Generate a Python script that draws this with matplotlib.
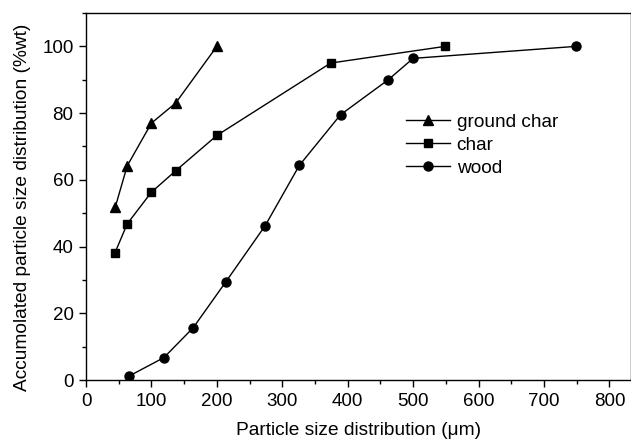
import matplotlib
matplotlib.use("Agg")
import matplotlib.pyplot as plt
from matplotlib.ticker import MultipleLocator

plt.rcParams['font.family'] = ['Liberation Sans', 'DejaVu Sans']

# Cumulative particle size distributions
ground_char_x = [45, 63, 100, 137, 200]
ground_char_y = [52, 64.2, 77, 83, 100]

char_x = [44, 63, 100, 137, 200, 374, 549]
char_y = [38, 46.8, 56.3, 62.7, 73.3, 95, 100]

wood_x = [66, 119, 164, 214, 274, 326, 389, 462, 500, 749]
wood_y = [1.2, 6.7, 15.7, 29.5, 46.3, 64.3, 79.5, 90, 96.4, 100]

fig = plt.figure(figsize=(6.31, 4.4), dpi=100)
ax = fig.add_axes([86 / 631, 60 / 440, 545 / 631, 367 / 440])

ax.plot(ground_char_x, ground_char_y, '-^', color='black', lw=1, ms=7, label='ground char')
ax.plot(char_x, char_y, '-s', color='black', lw=1, ms=6, label='char')
ax.plot(wood_x, wood_y, '-o', color='black', lw=1, ms=6.5, label='wood')

ax.set_xlim(0, 833)
ax.set_ylim(0, 110)
ax.xaxis.set_major_locator(MultipleLocator(100))
ax.xaxis.set_minor_locator(MultipleLocator(50))
ax.yaxis.set_major_locator(MultipleLocator(20))
ax.yaxis.set_minor_locator(MultipleLocator(10))
ax.tick_params(which='major', direction='out', length=5, width=1, labelsize=13.5, pad=4)
ax.tick_params(which='minor', direction='out', length=3, width=1)
for s in ax.spines.values():
    s.set_linewidth(1)

ax.set_xlabel('Particle size distribution (μm)', fontsize=13.8, labelpad=9)
ax.set_ylabel('Accumolated particle size distribution (%wt)', fontsize=13.8, labelpad=8)
ax.yaxis.label.set_y(0.47)

ax.legend(loc='upper left', bbox_to_anchor=(0.556, 0.773), frameon=False,
          fontsize=13.7, handlelength=2.3, handletextpad=0.35, labelspacing=0.3)

fig.savefig('out.png', dpi=100)
